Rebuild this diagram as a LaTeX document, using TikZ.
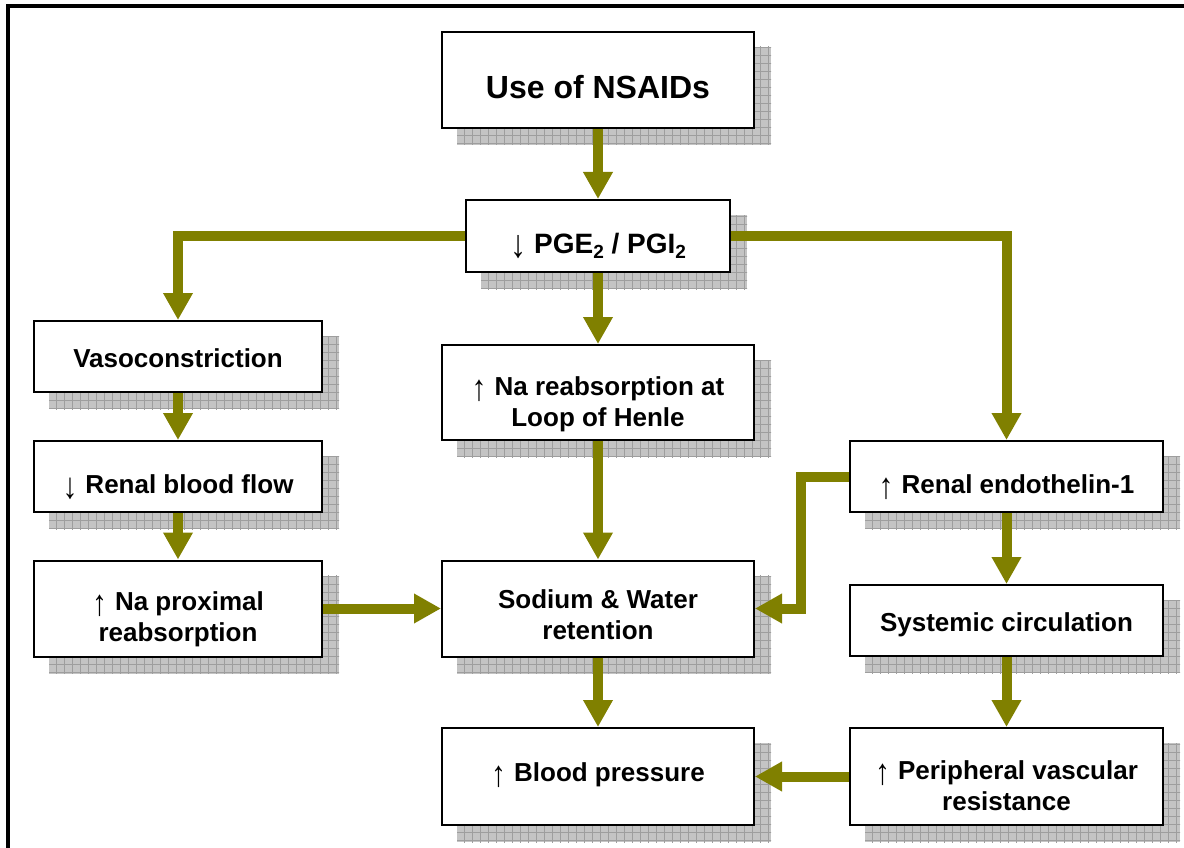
\documentclass[tikz,border=0pt]{standalone}
\usepackage{fontspec}
\usepackage{graphicx}
\setmainfont{Liberation Sans}
\usetikzlibrary{arrows.meta,backgrounds}

\definecolor{flow}{HTML}{808000}
\definecolor{shadowgray}{HTML}{C4C4C4}
\definecolor{shadowline}{HTML}{9E9E9E}

% tall thin arrows for "increase"/"decrease" and a lowered subscript two
\newcommand\incr{\raisebox{-5pt}{\scalebox{1.15}[1.4]{\textmd{↑}}}\hspace{8pt}}
\newcommand\decr{\raisebox{-5pt}{\scalebox{1.15}[1.4]{\textmd{↓}}}\hspace{8pt}}
\newcommand\subtwo{\raisebox{-0.2em}{\fontsize{19}{19}\selectfont 2}}

\tikzset{
  box/.style={draw, line width=2pt, fill=white, align=center, inner sep=0pt,
    font=\fontsize{26}{31}\selectfont\bfseries},
  % place the last baseline at (box centre + #1/2)
  textat/.style={text height=#1, text depth=0pt},
  flowarrow/.style={draw=flow, line width=10pt, line join=miter,
    -{Triangle[width=28pt,length=27pt]}},
}

\begin{document}
\begin{tikzpicture}[x=1pt, y=-1pt]
\useasboundingbox (0,0) rectangle (1184,848);

% outer frame
\draw[line width=4pt] (8,848) -- (8,6) -- (1184,6);

% boxes
\node[box, minimum width=312pt, minimum height=96pt, textat=37pt,
      font=\fontsize{32}{38}\selectfont\bfseries] (use) at (598,80) {Use of NSAIDs};
\node[box, minimum width=264pt, minimum height=72pt, textat=34pt,
      font=\fontsize{28}{32}\selectfont\bfseries] (pge) at (598,236)
  {\decr PGE\subtwo{} / PGI\subtwo};
\node[box, minimum width=288pt, minimum height=71pt, textat=21pt] (vaso) at (178,356.5)
  {Vasoconstriction};
\node[box, minimum width=288pt, minimum height=71pt, textat=33pt] (rbf) at (178,476.5)
  {\decr Renal blood flow};
\node[box, minimum width=288pt, minimum height=96pt, textat=66pt] (nap) at (178,608.5)
  {\incr Na proximal\\reabsorption};
\node[box, minimum width=312pt, minimum height=95pt, textat=68pt] (loop) at (598,392.5)
  {\incr Na reabsorption at\\Loop of Henle};
\node[box, minimum width=312pt, minimum height=96pt, textat=61pt] (sw) at (598,608.5)
  {Sodium \& Water\\retention};
\node[box, minimum width=312pt, minimum height=97pt, textat=9pt] (bp) at (598,776.5)
  {\incr Blood pressure};
\node[box, minimum width=313pt, minimum height=71pt, textat=33pt] (et1) at (1006.5,476.5)
  {\incr Renal endothelin-1};
\node[box, minimum width=313pt, minimum height=71pt, textat=21pt] (sys) at (1006.5,620.5)
  {Systemic circulation};
\node[box, minimum width=313pt, minimum height=97pt, textat=68pt] (pvr) at (1006.5,776.5)
  {\incr Peripheral vascular\\resistance};

% hatched drop shadows behind every box
\begin{scope}[on background layer]
  \foreach \n in {use,pge,vaso,rbf,nap,loop,sw,bp,et1,sys,pvr}{
    \begin{scope}
      \clip ([shift={(16pt,-16pt)}]\n.south west) rectangle ([shift={(16pt,-16pt)}]\n.north east);
      \fill[shadowgray] ([shift={(16pt,-16pt)}]\n.south west) rectangle ([shift={(16pt,-16pt)}]\n.north east);
      \draw[shadowline, line width=1pt, step=8pt]
        ([shift={(8pt,-24pt)}]\n.south west) grid ([shift={(24pt,-8pt)}]\n.north east);
    \end{scope}
  }
\end{scope}

% connectors
\draw[flowarrow] (use) -- (pge);
\draw[flowarrow] (pge.west) -| (vaso.north);
\draw[flowarrow] (pge.east) -| (et1.north);
\draw[flowarrow] (pge) -- (loop);
\draw[flowarrow] (vaso) -- (rbf);
\draw[flowarrow] (rbf) -- (nap);
\draw[flowarrow] (nap) -- (sw);
\draw[flowarrow] (loop) -- (sw);
\draw[flowarrow] (et1.west) -- ++(-48,0) |- (sw.east);
\draw[flowarrow] (et1) -- (sys);
\draw[flowarrow] (sys) -- (pvr);
\draw[flowarrow] (sw) -- (bp);
\draw[flowarrow] (pvr) -- (bp);
\end{tikzpicture}
\end{document}
